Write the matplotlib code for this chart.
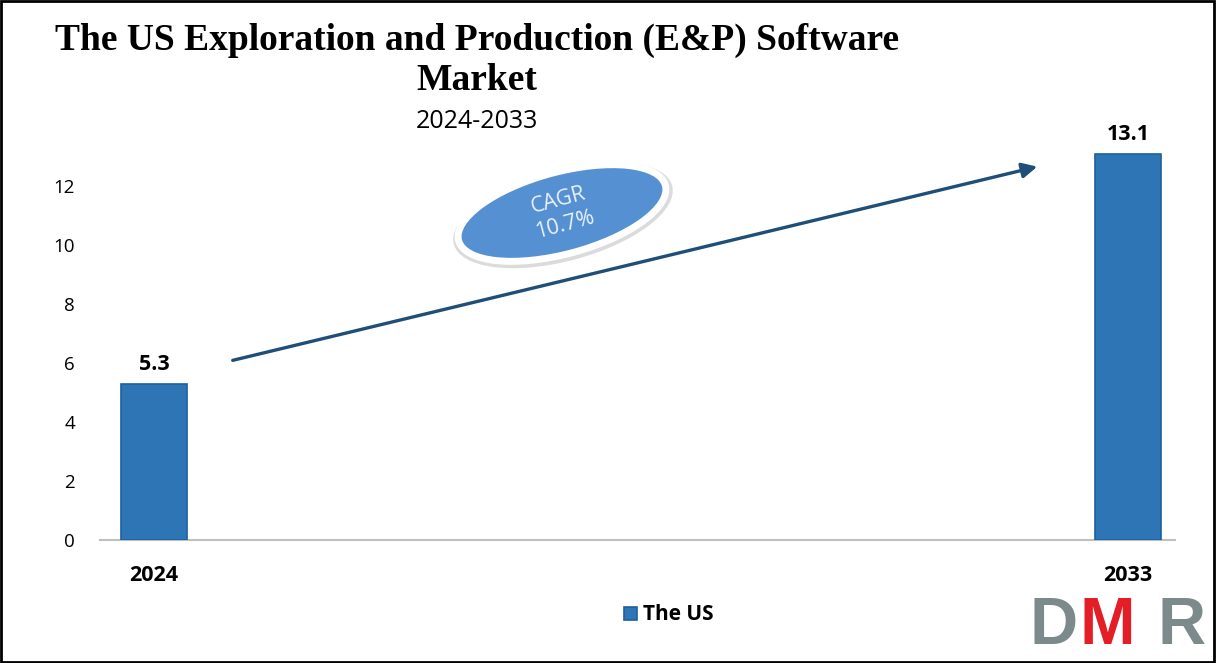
import numpy as np
import matplotlib
matplotlib.use("Agg")
import matplotlib.pyplot as plt
from matplotlib.patches import Ellipse, Rectangle, FancyArrowPatch
from matplotlib.transforms import IdentityTransform

years = ["2024", "2033"]
values = [5.3, 13.1]
yticks = [0, 2, 4, 6, 8, 10, 12]
series_name = "The US"
cagr_text = "CAGR\n10.7%"

W, H = 1216, 663
fig = plt.figure(figsize=(W / 100, H / 100), dpi=100)
fig.patch.set_facecolor("white")

ax = fig.add_axes([100 / W, (H - 540) / H, 1075 / W, 413 / H])
x = np.arange(len(years))
bars = ax.bar(x, values, width=0.068, color="#2E75B6", edgecolor="#1F5F9E",
              linewidth=1.2, label=series_name, zorder=3)
ax.set_xlim(-0.0554, 1.048)
ax.set_ylim(0, 14)
ax.set_yticks(yticks)
ax.set_yticklabels([str(t) for t in yticks], fontsize=13.5, family="Open Sans")
ax.tick_params(axis="y", length=0, pad=18)
ax.set_xticks(x)
ax.set_xticklabels(years, fontsize=15.5, fontweight="bold", family="Open Sans")
ax.tick_params(axis="x", length=0, pad=18)
for s in ["top", "right", "left"]:
    ax.spines[s].set_visible(False)
ax.spines["bottom"].set_color("#BFBFBF")
ax.spines["bottom"].set_linewidth(1.5)

for xi, v in zip(x, values):
    ax.text(xi, v + 0.3, f"{v}", ha="center", va="bottom", fontsize=15.5,
            fontweight="bold", family="Open Sans")

# title
fig.text(477 / W, 1 - 40 / H, "The US Exploration and Production (E&P) Software",
         ha="center", va="center", fontsize=27, fontweight="bold",
         family="Liberation Serif")
fig.text(477 / W, 1 - 80 / H, "Market",
         ha="center", va="center", fontsize=27, fontweight="bold",
         family="Liberation Serif")
fig.text(477 / W, 1 - 122 / H, "2024-2033", ha="center", va="center",
         fontsize=18, family="Open Sans")

# growth arrow
fig.add_artist(FancyArrowPatch(
    (230 / W, 1 - 361 / H), (1040 / W, 1 - 166 / H), transform=fig.transFigure,
    arrowstyle="-|>,head_length=9,head_width=4.5", color="#1F4E79", lw=2.4))

# CAGR bubble
idt = IdentityTransform()
cx, cy = 562, H - 213
fig.add_artist(Ellipse((cx + 1, cy - 2), 226, 92, angle=15, transform=idt,
                       facecolor="#9A9A9A", alpha=0.35, edgecolor="none"))
fig.add_artist(Ellipse((cx, cy), 214, 82, angle=15, transform=idt,
                       facecolor="#5490D2", edgecolor="white", lw=5))
fig.text(cx / W, cy / H, cagr_text, ha="center", va="center", rotation=15,
         color="#EAF2FB", fontsize=15.5, family="Open Sans", linespacing=1.25)

# legend
leg = fig.legend(handles=[bars], labels=[series_name], loc="center",
                 bbox_to_anchor=(669 / W, 1 - 615 / H), frameon=False,
                 prop={"family": "Open Sans", "weight": "bold", "size": 15},
                 handlelength=0.6, handleheight=0.6, handletextpad=0.3)

# DMR logo
for letter, lx, col in [("D", 1030, "#7D8A8C"), ("M", 1080, "#E41E26"), ("R", 1158, "#7D8A8C")]:
    fig.text(lx / W, 5 / H, letter, color=col, fontsize=48, fontweight="bold",
             family="Liberation Sans", ha="left", va="bottom")

# frame around the image
fig.add_artist(Rectangle((0.001, 0.002), 0.997, 0.996, transform=fig.transFigure,
                         fill=False, edgecolor="black", lw=2))

fig.savefig("out.png", dpi=100)
